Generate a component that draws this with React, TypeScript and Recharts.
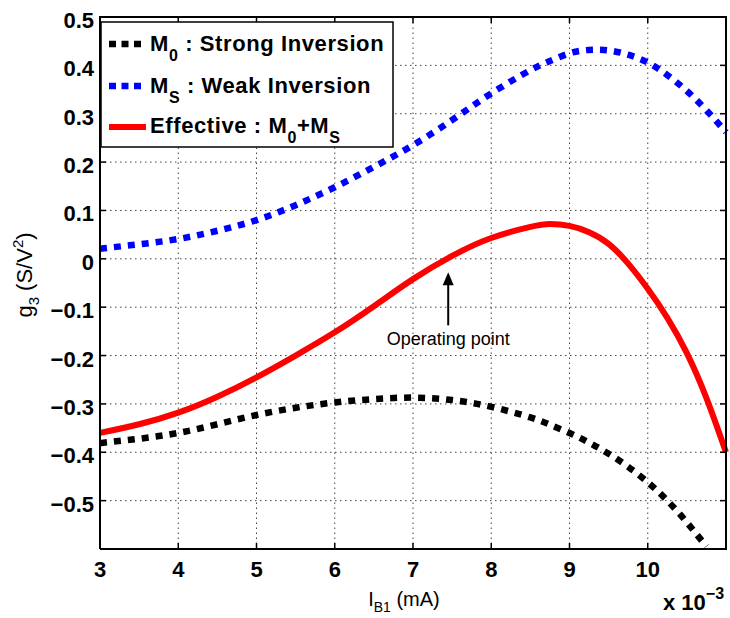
import React from "react";
import { LineChart, Line, XAxis, YAxis, ReferenceLine, ReferenceDot } from "recharts";

// I_B1 sample points (x 10^-3)
const ib = [3, 3.5, 4, 4.5, 5, 5.5, 6, 6.5, 7, 7.5, 8, 8.5, 8.75, 9, 9.25, 9.5, 9.75, 10, 10.25, 10.5, 10.75, 11];

// g3 (S/V^2) for each curve
const strongInv = [-0.381, -0.372, -0.36, -0.342, -0.323, -0.308, -0.297, -0.29, -0.287, -0.292, -0.306, -0.328, -0.343, -0.36, -0.38, -0.403, -0.43, -0.462, -0.5, -0.545, -0.595, null];
const weakInv = [0.021, 0.03, 0.041, 0.058, 0.08, 0.111, 0.148, 0.19, 0.235, 0.287, 0.342, 0.39, 0.409, 0.425, 0.432, 0.431, 0.422, 0.406, 0.38, 0.347, 0.307, 0.262];
const effective = [-0.36, -0.342, -0.318, -0.285, -0.245, -0.2, -0.152, -0.098, -0.042, 0.006, 0.043, 0.066, 0.072, 0.068, 0.055, 0.031, -0.01, -0.062, -0.122, -0.195, -0.288, -0.4];

const xTicks = [3, 4, 5, 6, 7, 8, 9, 10];
const yTicks = [-0.5, -0.4, -0.3, -0.2, -0.1, 0, 0.1, 0.2, 0.3, 0.4, 0.5];
const xDomain: [number, number] = [3, 11];
const yDomain: [number, number] = [-0.6, 0.5];

const W = 730;
const H = 618;
const TOP = 17;
const LEFT = 100;
const RIGHT = 726;
const BOTTOM = 549;
const TICK = 6;
const FONT = "'Liberation Sans', Arial, Helvetica, sans-serif";

// tick positions on the box (same linear mapping as the chart's plot area)
const tx = (v: number) => LEFT + ((v - xDomain[0]) / (xDomain[1] - xDomain[0])) * (RIGHT - LEFT);
const ty = (v: number) => TOP + ((yDomain[1] - v) / (yDomain[1] - yDomain[0])) * (BOTTOM - TOP);

const series = (ys: (number | null)[]) =>
  ib.map((x, i) => ({ x, v: ys[i] })).filter((d) => d.v !== null);

const fmtY = (v: number) => (v === 0 ? "0" : v.toFixed(1).replace("-", "\u2212"));

const BottomTick = (props: any) => (
  <text x={props.x} y={BOTTOM + 28} textAnchor="middle" fontFamily={FONT} fontWeight="bold" fontSize={22} fill="#000">
    {props.payload.value}
  </text>
);

const LeftTick = (props: any) => (
  <text x={LEFT - 6} y={props.y + 11} textAnchor="end" fontFamily={FONT} fontWeight="bold" fontSize={22} fill="#000">
    {fmtY(props.payload.value)}
  </text>
);

const OperatingPoint = (props: any) => {
  const { cx, cy } = props;
  return (
    <g>
      <line x1={cx} x2={cx} y1={cy + 10} y2={cy + 53} stroke="#000" strokeWidth={2} />
      <polygon points={`${cx},${cy} ${cx - 5.5},${cy + 13} ${cx + 5.5},${cy + 13}`} fill="#000" />
      <text x={cx} y={cy + 73} textAnchor="middle" fontFamily={FONT} fontSize={18} fill="#000">
        Operating point
      </text>
    </g>
  );
};

const frame = { stroke: "#000", strokeWidth: 2 };

export default function App() {
  return (
    <div style={{ position: "absolute", left: 0, top: 0, width: W, height: H, background: "#fff" }}>
      <LineChart width={W} height={H} margin={{ top: TOP, right: W - RIGHT, left: 0, bottom: 0 }}>
        {xTicks.slice(1).map((t) => (
          <ReferenceLine key={"gx" + t} x={t} stroke="#444" strokeWidth={1} strokeDasharray="1.5 3.5" />
        ))}
        {yTicks.slice(0, -1).map((t) => (
          <ReferenceLine key={"gy" + t} y={t} stroke="#444" strokeWidth={1} strokeDasharray="1.5 3.5" />
        ))}
        <XAxis
          dataKey="x"
          type="number"
          domain={xDomain}
          ticks={xTicks}
          height={H - BOTTOM}
          axisLine={frame}
          tickLine={false}
          tick={<BottomTick />}
          interval={0}
        />
        <YAxis
          type="number"
          domain={yDomain}
          ticks={yTicks}
          width={LEFT}
          axisLine={frame}
          tickLine={false}
          tick={<LeftTick />}
          interval={0}
        />
        <Line data={series(strongInv)} dataKey="v" type="natural" stroke="#000" strokeWidth={6.5} strokeDasharray="7 7" dot={false} isAnimationActive={false} />
        <Line data={series(weakInv)} dataKey="v" type="natural" stroke="#0000ff" strokeWidth={6.5} strokeDasharray="7 7" dot={false} isAnimationActive={false} />
        <Line data={series(effective)} dataKey="v" type="natural" stroke="#ff0000" strokeWidth={6} dot={false} isAnimationActive={false} />
        <ReferenceDot x={7.45} y={-0.028} r={0} shape={<OperatingPoint />} />
      </LineChart>
      <svg width={W} height={H} style={{ position: "absolute", left: 0, top: 0, pointerEvents: "none" }}>
        {/* axes box (top and right edges) and inward ticks, drawn as filled rects */}
        <rect x={LEFT - 1} y={TOP - 1} width={RIGHT - LEFT + 2} height={2} fill="#000" />
        <rect x={RIGHT - 1} y={TOP - 1} width={2} height={BOTTOM - TOP + 2} fill="#000" />
        {xTicks.slice(1).map((t) => (
          <g key={"xt" + t}>
            <rect x={tx(t) - 0.75} y={BOTTOM - TICK} width={1.5} height={TICK} fill="#000" />
            <rect x={tx(t) - 0.75} y={TOP} width={1.5} height={TICK} fill="#000" />
          </g>
        ))}
        {yTicks.slice(0, -1).map((t) => (
          <g key={"yt" + t}>
            <rect x={LEFT} y={ty(t) - 0.75} width={TICK} height={1.5} fill="#000" />
            <rect x={RIGHT - TICK} y={ty(t) - 0.75} width={TICK} height={1.5} fill="#000" />
          </g>
        ))}
        <g fontFamily={FONT} fill="#000">
          <rect x={101} y={22} width={292} height={125} fill="#fff" stroke="#000" strokeWidth={1.5} />
          <line x1={109} x2={146} y1={44} y2={44} stroke="#000" strokeWidth={6.5} strokeDasharray="7 5.5" />
          <line x1={109} x2={146} y1={86} y2={86} stroke="#0000ff" strokeWidth={6.5} strokeDasharray="7 5.5" />
          <line x1={109} x2={146} y1={127} y2={127} stroke="#ff0000" strokeWidth={6} />
          <text x={150} y={51} fontSize={22} fontWeight="bold" letterSpacing={0.6}>
            M<tspan dy={10} fontSize={16}>0</tspan>
            <tspan dy={-10}> : Strong Inversion</tspan>
          </text>
          <text x={150} y={93} fontSize={22} fontWeight="bold" letterSpacing={0.6}>
            M<tspan dy={10} fontSize={16}>S</tspan>
            <tspan dy={-10}> : Weak Inversion</tspan>
          </text>
          <text x={150} y={133} fontSize={22} fontWeight="bold" letterSpacing={0.6}>
            Effective : M<tspan dy={10} fontSize={16}>0</tspan>
            <tspan dy={-10}>+M</tspan>
            <tspan dy={10} fontSize={16}>S</tspan>
          </text>
          <text x={404} y={606} fontSize={20} textAnchor="middle">
            I<tspan dy={6} fontSize={14}>B1</tspan>
            <tspan dy={-6}> (mA)</tspan>
          </text>
          <text transform="rotate(-90, 32, 275)" x={32} y={275} fontSize={22} textAnchor="middle">
            g<tspan dy={7} fontSize={15}>3</tspan>
            <tspan dy={-7}> (S/V</tspan>
            <tspan dy={-9} fontSize={15}>2</tspan>
            <tspan dy={9}>)</tspan>
          </text>
          <text x={663} y={610} fontSize={22} fontWeight="bold">
            x 10<tspan dy={-11} fontSize={16}>{"\u22123"}</tspan>
          </text>
        </g>
      </svg>
    </div>
  );
}
